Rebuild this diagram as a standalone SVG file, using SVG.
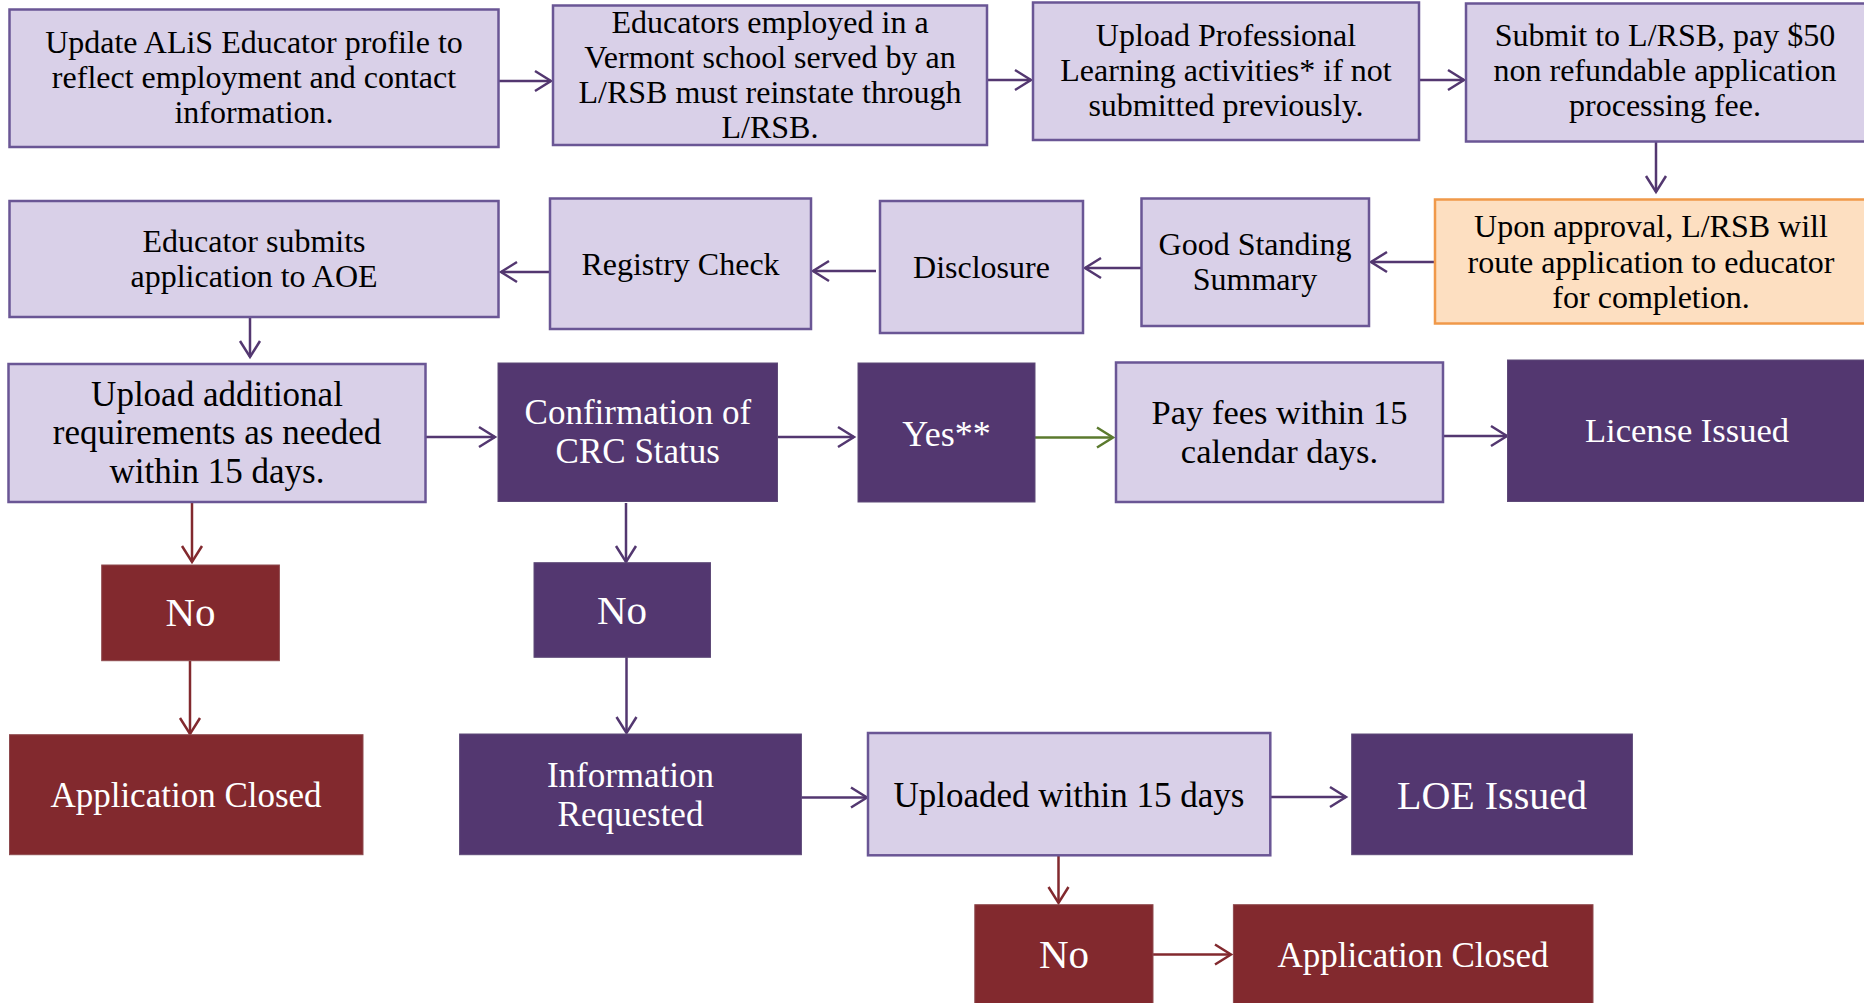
<svg xmlns="http://www.w3.org/2000/svg" width="1864" height="1003" viewBox="0 0 1864 1003">
<style>
  text { font-family: "Liberation Serif", "Times New Roman", serif; text-anchor: middle; }
  .lt { fill: #D9D0E8; stroke: #6A5695; stroke-width: 2.5; }
  .dk { fill: #533770; stroke: #5E4A78; stroke-width: 1; }
  .rd { fill: #82292E; stroke: #8E4A4E; stroke-width: 1; }
  .or { fill: #FDDFC1; stroke: #F0994A; stroke-width: 2.5; }
  .tb { fill: #000000; }
  .tw { fill: #FFFFFF; }
  .s32 { font-size: 32px; }
  .s35 { font-size: 35px; }
  .cp { fill: none; stroke: #533770; stroke-width: 2.5; }
  .cr { fill: none; stroke: #82292E; stroke-width: 2.5; }
  .cg { fill: none; stroke: #5B7A2E; stroke-width: 2.5; }
</style>
<defs>
  <marker id="ap" markerUnits="userSpaceOnUse" markerWidth="24" markerHeight="24" viewBox="-20 -12 24 24" refX="0" refY="0" orient="auto">
    <path d="M-16,-10 L0,0 L-16,10" fill="none" stroke="#533770" stroke-width="2.5"/>
  </marker>
  <marker id="ar" markerUnits="userSpaceOnUse" markerWidth="24" markerHeight="24" viewBox="-20 -12 24 24" refX="0" refY="0" orient="auto">
    <path d="M-16,-10 L0,0 L-16,10" fill="none" stroke="#82292E" stroke-width="2.5"/>
  </marker>
  <marker id="ag" markerUnits="userSpaceOnUse" markerWidth="24" markerHeight="24" viewBox="-20 -12 24 24" refX="0" refY="0" orient="auto">
    <path d="M-16,-10 L0,0 L-16,10" fill="none" stroke="#5B7A2E" stroke-width="2.5"/>
  </marker>
</defs>
<rect width="1864" height="1003" fill="#FFFFFF"/>

<g id="connectors">
  <line class="cp" x1="499" y1="81" x2="551" y2="81" marker-end="url(#ap)"/>
  <line class="cp" x1="987" y1="80" x2="1031" y2="80" marker-end="url(#ap)"/>
  <line class="cp" x1="1419" y1="80" x2="1464" y2="80" marker-end="url(#ap)"/>
  <line class="cp" x1="1656" y1="142" x2="1656" y2="192" marker-end="url(#ap)"/>
  <line class="cp" x1="1435" y1="262" x2="1371" y2="262" marker-end="url(#ap)"/>
  <line class="cp" x1="1141" y1="268" x2="1085" y2="268" marker-end="url(#ap)"/>
  <line class="cp" x1="876" y1="271" x2="813" y2="271" marker-end="url(#ap)"/>
  <line class="cp" x1="550" y1="272" x2="501" y2="272" marker-end="url(#ap)"/>
  <line class="cp" x1="250" y1="317" x2="250" y2="357" marker-end="url(#ap)"/>
  <line class="cp" x1="426" y1="437" x2="495" y2="437" marker-end="url(#ap)"/>
  <line class="cp" x1="778" y1="437" x2="854" y2="437" marker-end="url(#ap)"/>
  <line class="cg" x1="1035" y1="437.5" x2="1113" y2="437.5" marker-end="url(#ag)"/>
  <line class="cp" x1="1443" y1="436" x2="1507" y2="436" marker-end="url(#ap)"/>
  <line class="cr" x1="192" y1="502" x2="192" y2="562" marker-end="url(#ar)"/>
  <line class="cp" x1="626" y1="503" x2="626" y2="562" marker-end="url(#ap)"/>
  <line class="cr" x1="190" y1="661" x2="190" y2="734" marker-end="url(#ar)"/>
  <line class="cp" x1="626.5" y1="657" x2="626.5" y2="733" marker-end="url(#ap)"/>
  <line class="cp" x1="801" y1="797.5" x2="867" y2="797.5" marker-end="url(#ap)"/>
  <line class="cp" x1="1270" y1="797" x2="1346" y2="797" marker-end="url(#ap)"/>
  <line class="cr" x1="1058.5" y1="855" x2="1058.5" y2="903" marker-end="url(#ar)"/>
  <line class="cr" x1="1153" y1="954.5" x2="1231" y2="954.5" marker-end="url(#ar)"/>
</g>

<g id="n-update-profile">
  <rect class="lt" x="9.5" y="9.5" width="489" height="137.5"/>
  <text class="tb s32" x="254" y="53">Update ALiS Educator profile to</text>
  <text class="tb s32" x="254" y="88">reflect employment and contact</text>
  <text class="tb s32" x="254" y="123">information.</text>
</g>

<g id="n-educators-employed">
  <rect class="lt" x="553" y="5.5" width="434" height="139.5"/>
  <text class="tb s32" x="770" y="32.5">Educators employed in a</text>
  <text class="tb s32" x="770" y="67.5">Vermont school served by an</text>
  <text class="tb s32" x="770" y="102.5">L/RSB must reinstate through</text>
  <text class="tb s32" x="770" y="137.5">L/RSB.</text>
</g>

<g id="n-upload-pl">
  <rect class="lt" x="1033" y="2.5" width="386" height="137.5"/>
  <text class="tb s32" x="1226" y="46">Upload Professional</text>
  <text class="tb s32" x="1226" y="81">Learning activities* if not</text>
  <text class="tb s32" x="1226" y="116">submitted previously.</text>
</g>

<g id="n-submit-lrsb">
  <rect class="lt" x="1466" y="3.5" width="400" height="138"/>
  <text class="tb s32" x="1665" y="46">Submit to L/RSB, pay $50</text>
  <text class="tb s32" x="1665" y="81">non refundable application</text>
  <text class="tb s32" x="1665" y="116">processing fee.</text>
</g>

<g id="n-upon-approval">
  <rect class="or" x="1435" y="199.5" width="431" height="124"/>
  <text class="tb s32" x="1651" y="237">Upon approval, L/RSB will</text>
  <text class="tb s32" x="1651" y="272.5">route application to educator</text>
  <text class="tb s32" x="1651" y="307.5">for completion.</text>
</g>

<g id="n-good-standing">
  <rect class="lt" x="1141.5" y="198.5" width="227.5" height="127.5"/>
  <text class="tb s32" x="1255" y="254.5">Good Standing</text>
  <text class="tb s32" x="1255" y="289.5">Summary</text>
</g>

<g id="n-disclosure">
  <rect class="lt" x="880" y="201" width="203" height="132"/>
  <text class="tb s32" x="981.5" y="277.5">Disclosure</text>
</g>

<g id="n-registry">
  <rect class="lt" x="550" y="198.5" width="261" height="130.5"/>
  <text class="tb s32" x="680.5" y="274.5">Registry Check</text>
</g>

<g id="n-educator-submits">
  <rect class="lt" x="9.5" y="201" width="489" height="116"/>
  <text class="tb s32" x="254" y="251.5">Educator submits</text>
  <text class="tb s32" x="254" y="286.5">application to AOE</text>
</g>

<g id="n-upload-additional">
  <rect class="lt" x="8.5" y="364" width="417" height="138"/>
  <text class="tb s35" x="217" y="405.5">Upload additional</text>
  <text class="tb s35" x="217" y="444">requirements as needed</text>
  <text class="tb s35" x="217" y="483">within 15 days.</text>
</g>

<g id="n-confirmation">
  <rect class="dk" x="498" y="363" width="279.5" height="138.5"/>
  <text class="tw s35" x="637.8" y="423.7">Confirmation of</text>
  <text class="tw s35" x="637.8" y="462.7">CRC Status</text>
</g>

<g id="n-yes">
  <rect class="dk" x="858" y="363" width="177" height="139"/>
  <text class="tw" style="font-size:36px" x="946.5" y="446">Yes**</text>
</g>

<g id="n-pay-fees">
  <rect class="lt" x="1116" y="362.5" width="327" height="139.5"/>
  <text class="tb" style="font-size:34.5px" x="1279.5" y="423.5">Pay fees within 15</text>
  <text class="tb" style="font-size:34.5px" x="1279.5" y="462.5">calendar days.</text>
</g>

<g id="n-license-issued">
  <rect class="dk" x="1507.5" y="360" width="358.5" height="141.5"/>
  <text class="tw" style="font-size:34.5px" x="1687" y="442">License Issued</text>
</g>

<g id="n-no-red-1">
  <rect class="rd" x="101.7" y="565" width="177.7" height="95.7"/>
  <text class="tw" style="font-size:41px" x="190.5" y="625.5">No</text>
</g>

<g id="n-no-purple">
  <rect class="dk" x="534" y="562.7" width="176.5" height="94.6"/>
  <text class="tw" style="font-size:41px" x="622" y="624.2">No</text>
</g>

<g id="n-app-closed-1">
  <rect class="rd" x="9.5" y="734.7" width="353.5" height="120"/>
  <text class="tw s35" x="186" y="806.5">Application Closed</text>
</g>

<g id="n-info-requested">
  <rect class="dk" x="459.6" y="734" width="341.8" height="120.7"/>
  <text class="tw s35" x="630.5" y="786.5">Information</text>
  <text class="tw s35" x="630.5" y="825.5">Requested</text>
</g>

<g id="n-uploaded">
  <rect class="lt" x="868" y="733" width="402.3" height="122.3"/>
  <text class="tb s35" x="1069" y="806.5">Uploaded within 15 days</text>
</g>

<g id="n-loe-issued">
  <rect class="dk" x="1351.7" y="734" width="280.7" height="120.7"/>
  <text class="tw" style="font-size:40px" x="1492" y="808.5">LOE Issued</text>
</g>

<g id="n-no-red-2">
  <rect class="rd" x="974.8" y="904.7" width="178.2" height="100"/>
  <text class="tw" style="font-size:41px" x="1064" y="967.8">No</text>
</g>

<g id="n-app-closed-2">
  <rect class="rd" x="1233.4" y="904.7" width="359.6" height="100"/>
  <text class="tw s35" x="1413" y="966.5">Application Closed</text>
</g>
</svg>
